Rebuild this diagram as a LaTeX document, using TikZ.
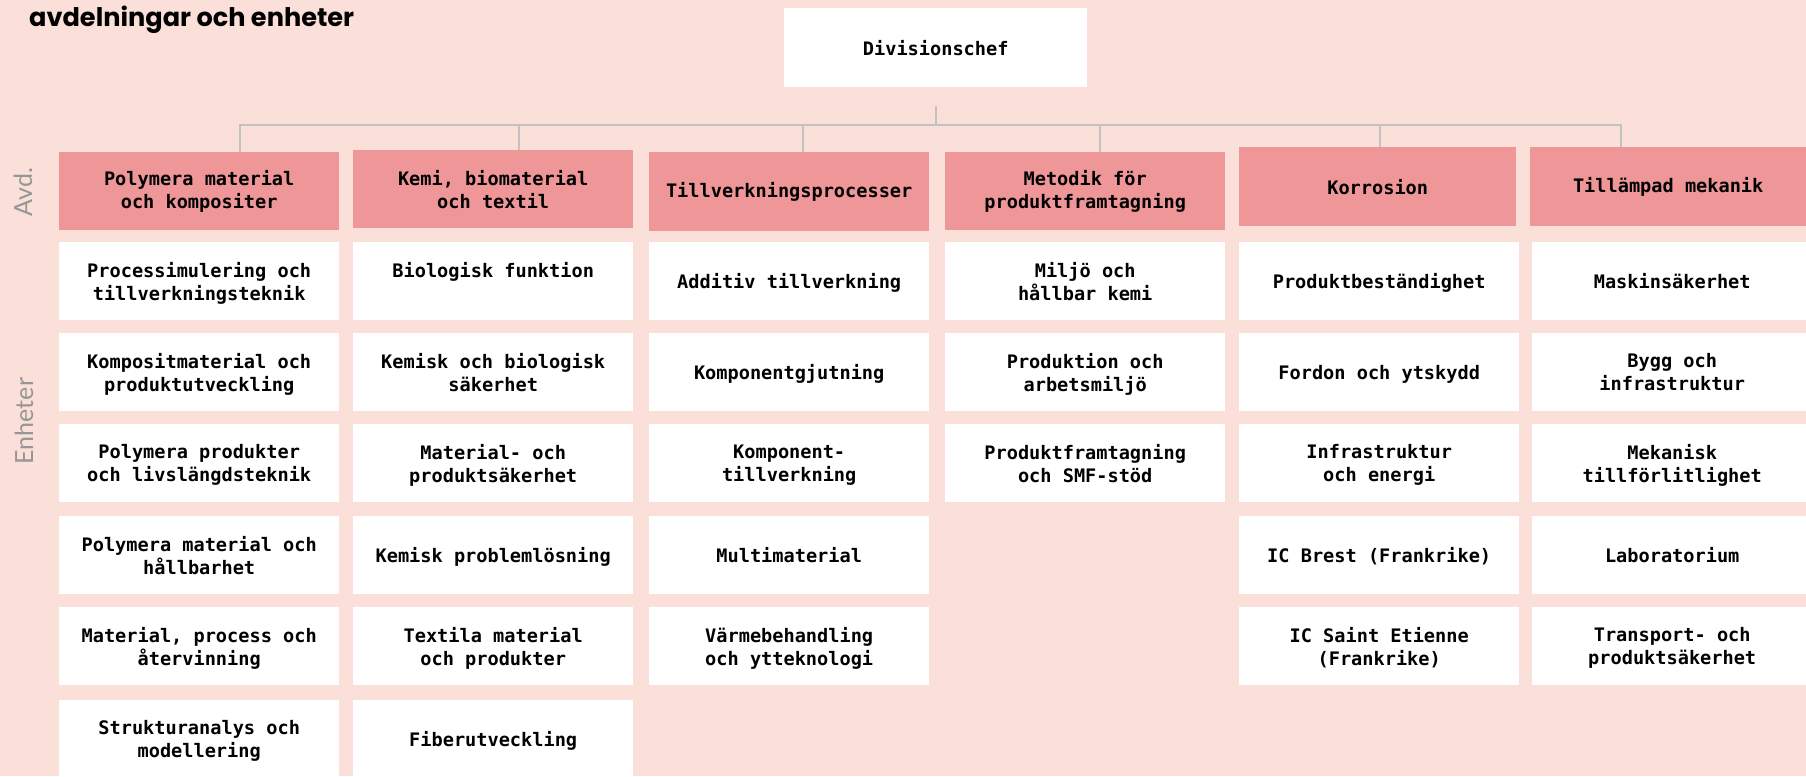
\documentclass[tikz,border=0pt]{standalone}
\usepackage{fontspec}
\newfontfamily\monofont{DejaVu Sans Mono}
\newfontfamily\titlefont{Poppins}
\newfontfamily\sidefont{Lato}
\definecolor{bg}{RGB}{250,224,216}
\definecolor{headpink}{RGB}{239,150,153}
\definecolor{conngray}{RGB}{194,194,194}
\definecolor{sidegray}{RGB}{150,150,150}
\begin{document}
\begin{tikzpicture}[x=1pt,y=-1pt,
  box/.style={anchor=north west, inner sep=0pt, minimum width=280pt, minimum height=78pt, align=center,
    font=\monofont\bfseries\fontsize{18.6}{23}\selectfont, text=black},
  unitbox/.style={box, fill=white, text depth=0pt},
  headbox/.style={box, fill=headpink},
  conn/.style={draw=conngray, line width=2.6pt},
  side/.style={rotate=90, font=\sidefont\fontsize{25}{28}\selectfont, text=sidegray, inner sep=0pt}
]
\fill[bg] (0,0) rectangle (1806,776);
\useasboundingbox (0,0) rectangle (1806,776);

% title
\node[anchor=base west, inner sep=0pt, font=\titlefont\bfseries\fontsize{25.6}{30}\selectfont] (title) at (29,26.7) {avdelningar och enheter};

% side labels
\node[side] (avd) at (23,192) {Avd.};
\node[side] (enh) at (24,421) {Enheter};

% top
\node[box, fill=white, minimum width=303pt, minimum height=79pt] (chef) at (784,8) {Divisionschef};

% division heads
\node[headbox] (h1) at (59,152) {Polymera material\\och kompositer};
\node[headbox] (h2) at (353,150) {Kemi, biomaterial\\och textil};
\node[headbox, minimum height=79pt] (h3) at (649,152) {Tillverkningsprocesser};
\node[headbox] (h4) at (945,152) {Metodik för\\produktframtagning};
\node[headbox, minimum width=277pt, minimum height=79pt] (h5) at (1239,147) {Korrosion};
\node[headbox, minimum width=276pt, minimum height=79pt] (h6) at (1530,147) {Tillämpad mekanik};

% connectors
\coordinate (stub) at (936,106);
\coordinate (b1) at (240,125);
\coordinate (b2) at (519,125);
\coordinate (b3) at (803,125);
\coordinate (b4) at (1100,125);
\coordinate (b5) at (1380,125);
\coordinate (b6) at (1621,125);
\draw[conn] (stub) -- (stub |- b1);
\draw[conn] (b1 |- h1.north) -- (b1) -- (b6) -- (b6 |- h6.north);
\draw[conn] (b2) -- (b2 |- h2.north);
\draw[conn] (b3) -- (b3 |- h3.north);
\draw[conn] (b4) -- (b4 |- h4.north);
\draw[conn] (b5) -- (b5 |- h5.north);

% column 1
\node[unitbox] (u11) at (59,242) {Processimulering och\\tillverkningsteknik};
\node[unitbox] (u12) at (59,333) {Kompositmaterial och\\produktutveckling};
\node[unitbox] (u13) at (59,424) {Polymera produkter\\och livslängdsteknik};
\node[unitbox] (u14) at (59,516) {Polymera material och\\hållbarhet};
\node[unitbox] (u15) at (59,607) {Material, process och\\återvinning};
\node[unitbox] (u16) at (59,700) {Strukturanalys och\\modellering};

% column 2
\node[unitbox] (u21) at (353,242) {Biologisk funktion\\\mbox{}};
\node[unitbox] (u22) at (353,333) {Kemisk och biologisk\\säkerhet};
\node[unitbox] (u23) at (353,424) {Material- och\\produktsäkerhet};
\node[unitbox] (u24) at (353,516) {Kemisk problemlösning};
\node[unitbox] (u25) at (353,607) {Textila material\\och produkter};
\node[unitbox] (u26) at (353,700) {Fiberutveckling};

% column 3
\node[unitbox] (u31) at (649,242) {Additiv tillverkning};
\node[unitbox] (u32) at (649,333) {Komponentgjutning};
\node[unitbox] (u33) at (649,424) {Komponent-\\tillverkning};
\node[unitbox] (u34) at (649,516) {Multimaterial};
\node[unitbox] (u35) at (649,607) {Värmebehandling\\och ytteknologi};

% column 4
\node[unitbox] (u41) at (945,242) {Miljö och\\hållbar kemi};
\node[unitbox] (u42) at (945,333) {Produktion och\\arbetsmiljö};
\node[unitbox] (u43) at (945,424) {Produktframtagning\\och SMF-stöd};

% column 5
\node[unitbox] (u51) at (1239,242) {Produktbeständighet};
\node[unitbox] (u52) at (1239,333) {Fordon och ytskydd};
\node[unitbox] (u53) at (1239,424) {Infrastruktur\\och energi};
\node[unitbox] (u54) at (1239,516) {IC Brest (Frankrike)};
\node[unitbox] (u55) at (1239,607) {IC Saint Etienne\\(Frankrike)};

% column 6
\node[unitbox] (u61) at (1532,242) {Maskinsäkerhet};
\node[unitbox] (u62) at (1532,333) {Bygg och\\infrastruktur};
\node[unitbox] (u63) at (1532,424) {Mekanisk\\tillförlitlighet};
\node[unitbox] (u64) at (1532,516) {Laboratorium};
\node[unitbox] (u65) at (1532,607) {Transport- och\\produktsäkerhet};
\end{tikzpicture}
\end{document}
